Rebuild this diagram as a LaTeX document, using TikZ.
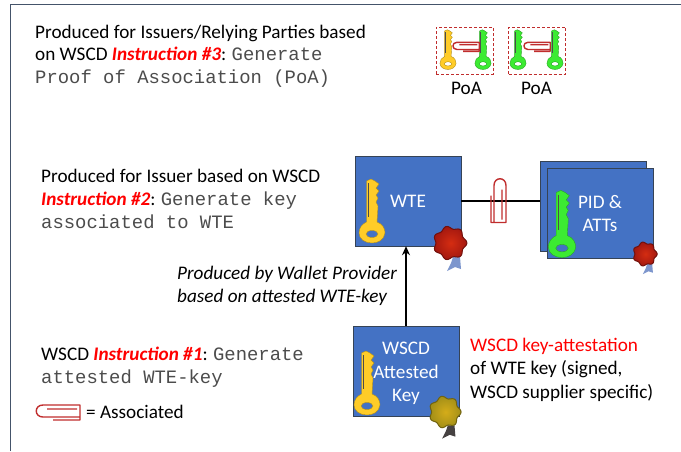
\documentclass[tikz,border=0pt]{standalone}
\usepackage{fontspec}
\setmainfont{Carlito}
\setmonofont{Liberation Mono}
\usetikzlibrary{arrows.meta, positioning}
\definecolor{color_box}{RGB}{68,114,196}
\definecolor{color_gold}{RGB}{255,204,40}
\definecolor{color_green}{RGB}{60,235,50}
\definecolor{color_red}{RGB}{255,0,0}
\definecolor{color_clip}{RGB}{192,45,45}
\definecolor{color_edge}{RGB}{68,84,106}
\definecolor{color_wax}{RGB}{205,30,20}
\definecolor{color_waxgold}{RGB}{205,180,30}
\definecolor{color_ribbon}{RGB}{125,150,205}
\definecolor{color_ribbondark}{RGB}{70,65,65}
\newcommand{\instr}[1]{\textcolor{color_red}{\textbf{\textit{#1}}}}
\tikzset{
	textline/.style={anchor=base west, inner sep=0pt, font=\fontsize{19.2}{22}\selectfont},
	codeline/.style={anchor=base west, inner sep=0pt, text=black!70, font=\fontsize{18.9}{22}\selectfont\ttfamily},
	bluebox/.style={draw=color_edge!80!black, fill=color_box, minimum width=106pt, minimum height=90pt, inner sep=0pt, text=white, align=center, font=\fontsize{19.2}{23.5}\selectfont},
	poabox/.style={draw=color_clip, densely dashed, minimum width=57pt, minimum height=47pt, inner sep=0pt},
	key/.pic={
		\path[fill=#1, draw=#1!70!black, line width=.4pt, even odd rule]
			(-5.5,-9) -- (-5.5,-50) -- (-1,-52) -- (3,-50) -- (7,-47) -- (4,-43) -- (7,-40) -- (4,-36) -- (6,-33) -- (4,-29) -- (6,-25) -- (5,-9)
			.. controls (11,-7) and (13,-2) .. (13,2)
			.. controls (12,9) and (6,12) .. (0,12)
			.. controls (-7,12) and (-13,8) .. (-13,2)
			.. controls (-13,-3) and (-10,-7) .. (-5.5,-9) -- cycle
			(0,3) ellipse (6 and 3.5);
		\draw[black!70, line width=.7pt] (-3.5,-48) -- (-3.5,-14);
	},
	pics/waxseal/.style 2 args={code={
		\fill[#2] (3,14) -- (10,14) -- (11,26) -- (5,24) -- (-3,28) -- (1,20) -- cycle;
		\shadedraw[draw=#1!55!black, line width=1pt, inner color=#1!85!orange, outer color=#1!80!black]
			plot[domain=0:360, samples=73, smooth] ({(15.5+1.4*cos(7*\x))*cos(\x)}, {(15.5+1.4*cos(7*\x))*sin(\x)}) -- cycle;
	}},
	clipmark/.pic={
		\draw[color_clip, line width=1.4pt, line join=round]
			(19,-3) -- (-11,-3)
			(-5,8) -- (22,8) -- (22,-7) -- (-15,-7) .. controls (-24,-7) and (-24,5) .. (-15,5) -- (22,5);
	}
}
\begin{document}
\begin{tikzpicture}[x=1pt, y=-1pt]
	\useasboundingbox (0,0) rectangle (681,451);
	\draw[color_edge, line width=1.2pt] (10.5,451) coordinate (edgebot) -- (10.5,4.5) coordinate (edgetop) -- (681,4.5) coordinate (edgeright);

	% POA
	\node[textline] (poa1) at (35,38) {Produced for Issuers/Relying Parties based};
	\node[textline] (poa2) at (35,60.5) {on WSCD \instr{Instruction \#3}:};
	\node[codeline, right=5pt of poa2.base east, anchor=base west] (poa3) {Generate};
	\node[codeline] (poa4) at (35,83.5) {Proof of Association (PoA)};
	\node[poabox] (poaleft) at (464.5,50.5) {};
	\node[poabox] (poaright) at (537,50.5) {};
	\pic[scale=.62] at (448,62) {key=color_gold};
	\pic[scale=.62] at (483,62) {key=color_green};
	\pic[scale=.62] at (518,62) {key=color_green};
	\pic[scale=.62] at (555,62) {key=color_green};
	\pic[scale=.6] at (466,46.5) {clipmark};
	\pic[scale=.6] at (537,46.5) {clipmark};
	\node[textline, anchor=base] (poaname1) at (466.5,94) {PoA};
	\node[textline, anchor=base] (poaname2) at (536.5,94) {PoA};

	% WTE
	\node[textline] (wte1) at (41,182) {Produced for Issuer based on WSCD};
	\node[textline] (wte2) at (41,205) {\instr{Instruction \#2}:};
	\node[codeline, right=5pt of wte2.base east, anchor=base west] (wte3) {Generate key};
	\node[codeline] (wte4) at (41,228) {associated to WTE};
	\node[bluebox] (wte) at (408,201) {WTE};
	\node[bluebox] (pidback) at (593,206) {};
	\node[bluebox] (pid) at (600,213.5) {PID \&\\ATTs};
	\draw[black, line width=1.3pt] (wte.east) -- (wte.east -| pidback.west);
	\pic at (372,231) {key=color_gold};
	\pic[scale=1.05] at (562,245) {key=color_green};
	\pic[rotate=-90] at (499,200.5) {clipmark};
	\pic at (450,243) {waxseal={color_wax}{color_ribbon}};
	\pic[scale=.72] at (645,254) {waxseal={color_wax}{color_ribbon}};

	% ATTESTED KEY
	\node[textline, font=\fontsize{19.2}{22}\selectfont\itshape] (prod1) at (177,279) {Produced by Wallet Provider};
	\node[textline, font=\fontsize{19.2}{22}\selectfont\itshape] (prod2) at (177,302) {based on attested WTE-key};
	\node[bluebox] (attested) at (406,371) {\rule{0pt}{18pt}WSCD\\Attested\\Key};
	\draw[-{Stealth[length=9pt, width=8pt]}, black, line width=1.3pt] (attested.north) -- (attested.north |- wte.south);
	\pic at (367,403) {key=color_gold};
	\pic[scale=.95] at (445,412) {waxseal={color_waxgold}{color_ribbondark}};
	\node[textline] (inst1) at (41,360) {WSCD \instr{Instruction \#1}:};
	\node[codeline, right=5pt of inst1.base east, anchor=base west] (inst2) {Generate};
	\node[codeline] (inst3) at (41,383) {attested WTE-key};
	\node[textline, text=color_red] (att1) at (470,351) {WSCD key-attestation};
	\node[textline] (att2) at (470,374) {of WTE key (signed,};
	\node[textline] (att3) at (470,398) {WSCD supplier specific)};

	% LEGEND
	\pic at (58,412) {clipmark};
	\node[textline] (assoc) at (86,418) {= Associated};
\end{tikzpicture}
\end{document}
